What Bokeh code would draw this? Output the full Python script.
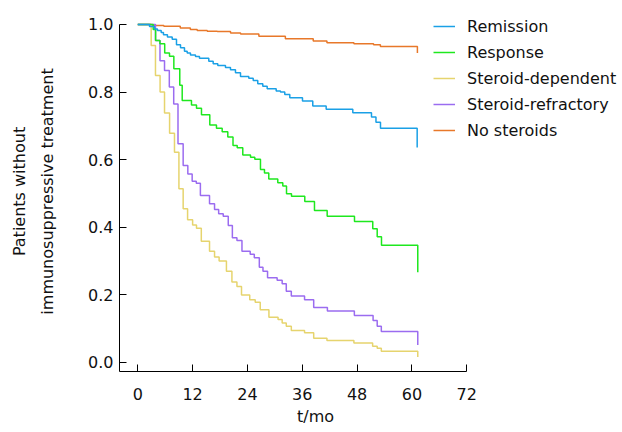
import math
from bokeh.plotting import figure
from bokeh.models import Range1d, Legend, LegendItem, Label, FixedTicker, PrintfTickFormatter
from bokeh.embed import file_html
from bokeh.resources import INLINE

# ---- data (months, proportion without immunosuppressive treatment) ----
remission_t = [0, 2.56, 3.66, 4.31, 5.12, 5.62, 6.49, 7.53, 8.47, 9.35,
               10.22, 10.81, 11.53, 12.63, 13.50, 15.54, 16.50, 17.51, 19.19, 20.29,
               21.38, 22.48, 24.29, 25.26, 26.26, 27.36, 28.32, 30.29, 31.23, 32.17,
               33.27, 36.05, 38.30, 41.23, 47.06, 51.15, 52.13, 53.12, 61.15]
remission_s = [1.0, 0.994, 0.987, 0.982, 0.976, 0.970, 0.963, 0.956, 0.940, 0.931,
               0.921, 0.916, 0.910, 0.905, 0.900, 0.891, 0.884, 0.879, 0.873, 0.866,
               0.857, 0.846, 0.841, 0.834, 0.825, 0.817, 0.810, 0.803, 0.800, 0.793,
               0.783, 0.774, 0.759, 0.749, 0.739, 0.726, 0.711, 0.693, 0.636]

response_t = [0, 3.37, 3.90, 4.84, 5.89, 6.94, 7.89, 9.19, 9.72, 11.75,
              12.85, 13.94, 15.76, 17.22, 18.47, 19.70, 20.84, 21.76, 22.98, 24.67,
              25.61, 26.85, 27.73, 28.67, 30.64, 31.74, 32.55, 33.64, 36.55, 38.67,
              41.45, 47.43, 51.43, 52.40, 53.34, 61.28]
response_s = [1.0, 0.985, 0.953, 0.943, 0.916, 0.906, 0.869, 0.820, 0.775, 0.762,
              0.752, 0.733, 0.703, 0.693, 0.683, 0.667, 0.642, 0.635, 0.614, 0.607,
              0.601, 0.571, 0.561, 0.543, 0.532, 0.522, 0.499, 0.492, 0.476, 0.450,
              0.433, 0.417, 0.396, 0.372, 0.347, 0.267]

dependent_t = [0, 2.93, 3.87, 4.88, 5.85, 6.96, 8.03, 9.0, 9.93, 10.9,
               12.0, 12.85, 13.9, 15.7, 16.8, 17.8, 19.4, 20.6, 21.7, 22.7,
               24.5, 25.7, 26.8, 28.7, 30.7, 31.6, 32.5, 33.6, 36.5, 38.5,
               41.4, 47.3, 51.4, 52.4, 53.3, 61.28]
dependent_s = [1.0, 0.938, 0.849, 0.80, 0.738, 0.678, 0.622, 0.514, 0.455, 0.422,
               0.407, 0.397, 0.359, 0.329, 0.312, 0.300, 0.270, 0.238, 0.225, 0.200,
               0.186, 0.178, 0.156, 0.134, 0.127, 0.117, 0.107, 0.095, 0.088, 0.072,
               0.065, 0.058, 0.048, 0.042, 0.033, 0.016]

refractory_t = [0, 3.87, 4.86, 5.85, 6.9, 7.86, 8.8, 9.93, 10.95, 11.9,
                12.8, 13.7, 15.7, 16.8, 17.7, 18.7, 19.8, 20.7, 21.7, 22.8,
                24.6, 25.5, 26.6, 27.4, 28.4, 30.5, 31.6, 32.5, 33.6, 36.5,
                38.5, 41.5, 47.4, 51.5, 52.4, 53.3, 61.28]
refractory_s = [1.0, 0.953, 0.893, 0.864, 0.815, 0.765, 0.647, 0.583, 0.558, 0.536,
                0.530, 0.494, 0.470, 0.453, 0.440, 0.433, 0.405, 0.369, 0.361, 0.329,
                0.320, 0.310, 0.282, 0.270, 0.251, 0.243, 0.233, 0.211, 0.197, 0.186,
                0.163, 0.152, 0.139, 0.124, 0.107, 0.092, 0.052]

nosteroid_t = [0, 2.9, 5.7, 9.3, 11.5, 13.0, 15.2, 17.4, 20.3, 22.5,
               26.5, 32.3, 38.4, 41.4, 47.3, 51.6, 53.1, 61.2]
nosteroid_s = [1.0, 0.997, 0.995, 0.990, 0.985, 0.982, 0.980, 0.979, 0.975, 0.972,
               0.965, 0.958, 0.951, 0.946, 0.943, 0.940, 0.935, 0.916]

series_names = ["Remission", "Response", "Steroid-dependent", "Steroid-refractory", "No steroids"]
series_colors = ["#1aa0e6", "#1ee81e", "#e6d46e", "#9b6cf0", "#e8782a"]
x_ticks = [0, 12, 24, 36, 48, 60, 72]
y_ticks = [0.0, 0.2, 0.4, 0.6, 0.8, 1.0]
x_axis_bounds = (-4.0, 72)
y_axis_bounds = (-0.027, 1.0)
x_label = "t/mo"
y_label = "Patients without\nimmunosuppressive treatment"

FONT = "DejaVu Sans"
TXT = "#111111"

# The frame covers the whole canvas; the axes are pinned at fixed data locations
p = figure(width=622, height=432, output_backend="svg", toolbar_location=None,
           x_range=Range1d(-30.05, 106.09), y_range=Range1d(-0.2071, 1.0710),
           min_border=0, min_border_left=0, min_border_right=0,
           min_border_top=0, min_border_bottom=0)
p.outline_line_color = None
p.xgrid.visible = False
p.ygrid.visible = False
p.background_fill_color = "white"
p.border_fill_color = "white"

data = [(remission_t, remission_s), (response_t, response_s), (dependent_t, dependent_s),
        (refractory_t, refractory_s), (nosteroid_t, nosteroid_s)]
renderers = {}
for idx in [4, 2, 3, 1, 0]:
    t, s = data[idx]
    renderers[idx] = p.step(t, s, mode="after", line_color=series_colors[idx], line_width=1.5)

for ax in (p.xaxis[0], p.yaxis[0]):
    ax.axis_line_color = "black"
    ax.major_tick_line_color = "black"
    ax.major_tick_in = 7
    ax.major_tick_out = 0
    ax.minor_tick_in = 0
    ax.minor_tick_out = 0
    ax.major_label_text_font = FONT
    ax.major_label_text_font_size = "16px"
    ax.major_label_text_color = TXT

p.xaxis.ticker = FixedTicker(ticks=x_ticks)
p.yaxis.ticker = FixedTicker(ticks=y_ticks)
p.yaxis.formatter = PrintfTickFormatter(format="%.1f")
p.xaxis.bounds = x_axis_bounds
p.yaxis.bounds = y_axis_bounds
p.xaxis.fixed_location = y_axis_bounds[0]
p.yaxis.fixed_location = x_axis_bounds[0]
p.xaxis.major_label_standoff = 16
p.yaxis.major_label_standoff = 6

xlab = Label(x=38.9, y=-0.160, text=x_label, text_font=FONT, text_font_size="16px",
             text_align="center", text_baseline="middle", text_color=TXT)
p.add_layout(xlab)

ylab = Label(x=-22.83, y=0.506, text=y_label, text_font=FONT, text_font_size="16px",
             text_align="center", text_baseline="middle", text_color=TXT,
             angle=math.pi / 2, text_line_height=1.5)
p.add_layout(ylab)

items = [LegendItem(label=series_names[i], renderers=[renderers[i]]) for i in range(5)]
legend = Legend(items=items, location=(433, 289), padding=0, margin=0, spacing=0,
                glyph_width=22, glyph_height=26, label_height=26, label_standoff=12,
                label_text_font=FONT, label_text_font_size="16px", label_text_color=TXT,
                border_line_alpha=0, background_fill_alpha=0)
p.add_layout(legend)

open("out.html", "w").write(file_html(p, INLINE))
